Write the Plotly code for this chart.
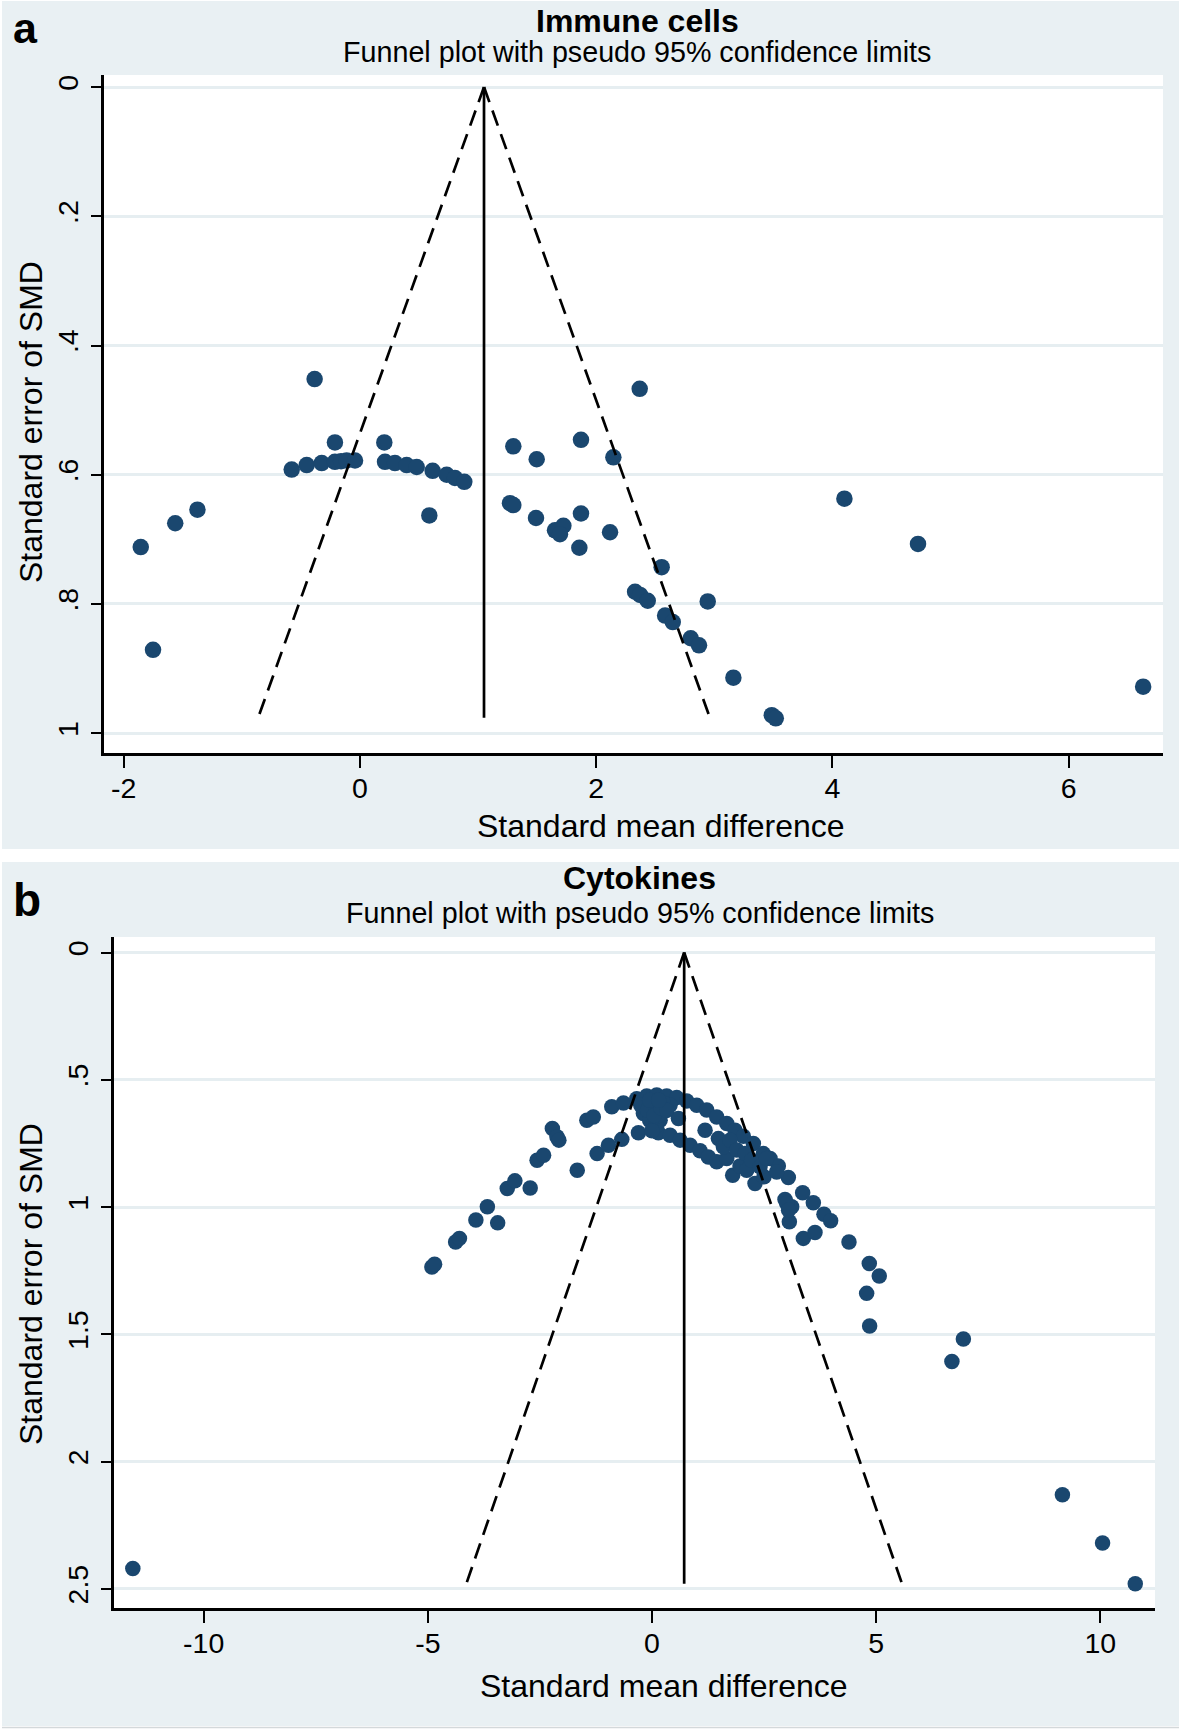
import plotly.graph_objects as go

# ---------------- data: panel a (Immune cells) ----------------
a_smd = [-1.856, -1.752, -1.564, -1.376, -0.384,
         -0.578, -0.451, -0.324, -0.212, -0.160, -0.113, -0.042,
         -0.212, 0.206,
         0.212, 0.296, 0.395, 0.480, 0.615, 0.734, 0.804, 0.883,
         0.587,
         1.298, 1.496, 1.871, 2.145, 2.368,
         1.270, 1.298, 1.490, 1.651, 1.722, 1.693, 1.871, 1.857, 2.117,
         2.554, 2.329, 2.371, 2.436, 2.944, 2.583, 2.648, 2.800, 2.870,
         3.161, 3.486, 3.520, 4.101, 4.724, 6.630]
a_se = [0.712, 0.871, 0.675, 0.654, 0.452,
        0.592, 0.585, 0.582, 0.580, 0.579, 0.578, 0.578,
        0.550, 0.550,
        0.580, 0.582, 0.585, 0.588, 0.594, 0.600, 0.605, 0.611,
        0.663,
        0.556, 0.576, 0.546, 0.573, 0.467,
        0.644, 0.647, 0.667, 0.686, 0.679, 0.692, 0.660, 0.713, 0.689,
        0.743, 0.781, 0.786, 0.795, 0.796, 0.818, 0.828, 0.853, 0.864,
        0.914, 0.972, 0.977, 0.637, 0.707, 0.928]
# pseudo 95% limits (left end, apex, right end)
a_lim_x = [-0.862, 1.050, 2.962]
a_lim_se = [0.976, 0.0, 0.976]

# ---------------- data: panel b (Cytokines) ----------------
b_smd = [-11.58,
         -4.909, -4.849, -4.380, -4.295, -3.928, -3.672, -3.442,
         -3.228, -3.058, -2.717, -2.563, -2.418, -2.222, -2.120, -2.077,
         -1.667, -1.453, -1.309, -1.224, -0.971, -0.673, -0.897, -0.637,
         -0.340, -0.117, 0.106, 0.329, 0.552, 0.775, 0.998, 1.221, 1.444,
         1.667, 1.852, 2.038, 2.261, 2.484, 2.633, 2.818, 3.041, 3.361,
         3.599, 3.836, 3.985, 4.394, 4.847, 5.070,
         -0.302, 0.143, 0.403, 0.626, 0.849, 1.072, 1.258, 1.444, 1.667,
         1.800, 1.964, 2.113, 2.298, 2.499, 2.967, 3.116, 3.064, 3.005,
         3.047, 3.376, 3.636, 4.788,
         -0.191, -0.005, 0.181, 0.255, 0.069, 0.403, 0.589, 1.184, 1.481,
         1.592, 1.741, 1.890, 2.075, 2.224, 2.410, 2.558, 2.781,
         -0.050, 0.100, 0.000, 0.150, -0.150, 0.250,
         -0.250, -0.100, 0.050, 0.200, 0.330, -0.050, 0.150,
         4.855, 6.946, 6.690, 9.155, 10.05, 10.78]
b_se = [2.420,
        1.235, 1.225, 1.137, 1.123, 1.051, 0.999, 1.062,
        0.927, 0.897, 0.925, 0.816, 0.796, 0.691, 0.724, 0.737,
        0.855, 0.659, 0.646, 0.790, 0.757, 0.734, 0.606, 0.591,
        0.574, 0.564, 0.560, 0.564, 0.570, 0.583, 0.600, 0.619, 0.646,
        0.672, 0.698, 0.722, 0.750, 0.790, 0.809, 0.839, 0.884, 0.944,
        0.983, 1.028, 1.054, 1.137, 1.222, 1.271,
        0.708, 0.708, 0.718, 0.737, 0.757, 0.779, 0.803, 0.822, 0.809,
        0.875, 0.839, 0.855, 0.907, 0.881, 0.970, 0.999, 1.058, 0.986,
        1.012, 1.123, 1.100, 1.339,
        0.632, 0.619, 0.659, 0.626, 0.593, 0.600, 0.652, 0.698, 0.731,
        0.763, 0.737, 0.776, 0.790, 0.816, 0.842, 0.809, 0.862,
        0.660, 0.680, 0.700, 0.640, 0.600, 0.590,
        0.600, 0.620, 0.640, 0.610, 0.620, 0.580, 0.580,
        1.467, 1.518, 1.607, 2.130, 2.320, 2.480]
b_lim_x = [-4.142, 0.718, 5.578]
b_lim_se = [2.48, 0.0, 2.48]

a_yticks = [0, 0.2, 0.4, 0.6, 0.8, 1]
a_yticktext = ["0", ".2", ".4", ".6", ".8", "1"]
a_xticks = [-2, 0, 2, 4, 6]
a_xticktext = ["-2", "0", "2", "4", "6"]
b_yticks = [0, 0.5, 1, 1.5, 2, 2.5]
b_yticktext = ["0", ".5", "1", "1.5", "2", "2.5"]
b_xticks = [-10, -5, 0, 5, 10]
b_xticktext = ["-10", "-5", "0", "5", "10"]

# ---------------- style ----------------
W, H = 1181, 1732
NAVY = "#1a476f"
BG = "#e9f0f3"
GRID = "#e6eef1"
FONT = "Liberation Sans, Arial, Helvetica, sans-serif"
DASH = "16px,9px"


def px(x):
    return x / W


def py(y):
    return 1 - y / H


fig = go.Figure()

# points
fig.add_trace(go.Scatter(x=a_smd, y=a_se, mode="markers", xaxis="x", yaxis="y",
                         marker=dict(color=NAVY, size=16.5, line=dict(width=0)),
                         showlegend=False))
fig.add_trace(go.Scatter(x=b_smd, y=b_se, mode="markers", xaxis="x2", yaxis="y2",
                         marker=dict(color=NAVY, size=15.5, line=dict(width=0)),
                         showlegend=False))

# funnel lines (drawn from apex down)
for xs, ses, xa, ya in [(a_lim_x, a_lim_se, "x", "y"), (b_lim_x, b_lim_se, "x2", "y2")]:
    fig.add_trace(go.Scatter(x=[xs[1], xs[0]], y=[ses[1], ses[0]], mode="lines",
                             xaxis=xa, yaxis=ya, showlegend=False,
                             line=dict(color="black", width=2.7, dash=DASH)))
    fig.add_trace(go.Scatter(x=[xs[1], xs[2]], y=[ses[1], ses[2]], mode="lines",
                             xaxis=xa, yaxis=ya, showlegend=False,
                             line=dict(color="black", width=2.7, dash=DASH)))
    fig.add_trace(go.Scatter(x=[xs[1], xs[1]], y=[ses[1], ses[0]], mode="lines",
                             xaxis=xa, yaxis=ya, showlegend=False,
                             line=dict(color="black", width=2.7)))

axis_common = dict(showline=True, linecolor="black", linewidth=2.5,
                   ticks="outside", tickcolor="black", tickwidth=2,
                   tickfont=dict(family=FONT, size=28.5, color="black"),
                   zeroline=False, mirror=False, fixedrange=True)

fig.update_layout(
    width=W, height=H,
    margin=dict(l=0, r=0, t=0, b=0),
    paper_bgcolor="white", plot_bgcolor="white",
    font=dict(family=FONT, color="black"),
    xaxis=dict(domain=[px(104), px(1163)], anchor="y", range=[-2.167, 6.798],
               tickvals=a_xticks, ticktext=a_xticktext, ticklen=12, showgrid=False,
               ticklabelstandoff=-4, **axis_common),
    yaxis=dict(domain=[py(753), py(75)], anchor="x", range=[1.0306, -0.0186],
               tickvals=a_yticks, ticktext=a_yticktext, tickangle=-90, ticklen=10,
               ticklabelstandoff=2,
               showgrid=True, gridcolor=GRID, gridwidth=2.5, **axis_common),
    xaxis2=dict(domain=[px(114), px(1155)], anchor="y2", range=[-12.0, 11.22],
                tickvals=b_xticks, ticktext=b_xticktext, ticklen=12, showgrid=False,
                ticklabelstandoff=-4, **axis_common),
    yaxis2=dict(domain=[py(1608), py(937)], anchor="x2", range=[2.575, -0.061],
                tickvals=b_yticks, ticktext=b_yticktext, tickangle=-90, ticklen=10,
                ticklabelstandoff=2,
                showgrid=True, gridcolor=GRID, gridwidth=2.5, **axis_common),
)

# panel backgrounds, then white plot areas on top of them
fig.add_shape(type="rect", xref="paper", yref="paper", layer="below",
              x0=px(2), x1=px(1179), y0=py(849), y1=py(1), fillcolor=BG, line=dict(width=0))
fig.add_shape(type="rect", xref="paper", yref="paper", layer="below",
              x0=px(2), x1=px(1179), y0=py(1726), y1=py(862), fillcolor=BG, line=dict(width=0))
fig.add_shape(type="rect", xref="paper", yref="paper", layer="below",
              x0=px(104), x1=px(1163), y0=py(753), y1=py(75), fillcolor="white", line=dict(width=0))
fig.add_shape(type="rect", xref="paper", yref="paper", layer="below",
              x0=px(114), x1=px(1155), y0=py(1608), y1=py(937), fillcolor="white", line=dict(width=0))
fig.add_shape(type="line", xref="paper", yref="paper",
              x0=px(2), x1=px(1179), y0=py(1727.5), y1=py(1727.5), line=dict(color="#d4d8da", width=1.5))


def ann(text, x, y, size, bold=False, angle=0, xanchor="center"):
    fig.add_annotation(text=("<b>%s</b>" % text) if bold else text,
                       x=px(x), y=py(y), xref="paper", yref="paper",
                       xanchor=xanchor, yanchor="middle", textangle=angle, showarrow=False,
                       font=dict(family=FONT, size=size, color="black"))


# panel a texts
ann("a", 11, 28.5, 43, bold=True, xanchor="left")
ann("Immune cells", 637, 21, 32, bold=True)
ann("Funnel plot with pseudo 95% confidence limits", 637, 52, 28.7)
ann("Standard mean difference", 661, 826, 32)
ann("Standard error of SMD", 31, 422, 32, angle=-90)

# panel b texts
ann("b", 11, 900, 46, bold=True, xanchor="left")
ann("Cytokines", 639.5, 878, 32, bold=True)
ann("Funnel plot with pseudo 95% confidence limits", 639.5, 913, 28.7)
ann("Standard mean difference", 664, 1686, 32)
ann("Standard error of SMD", 31, 1284, 32, angle=-90)

fig.write_html("out.html", config={"displayModeBar": False},
               post_script="document.body.style.margin='0';")
